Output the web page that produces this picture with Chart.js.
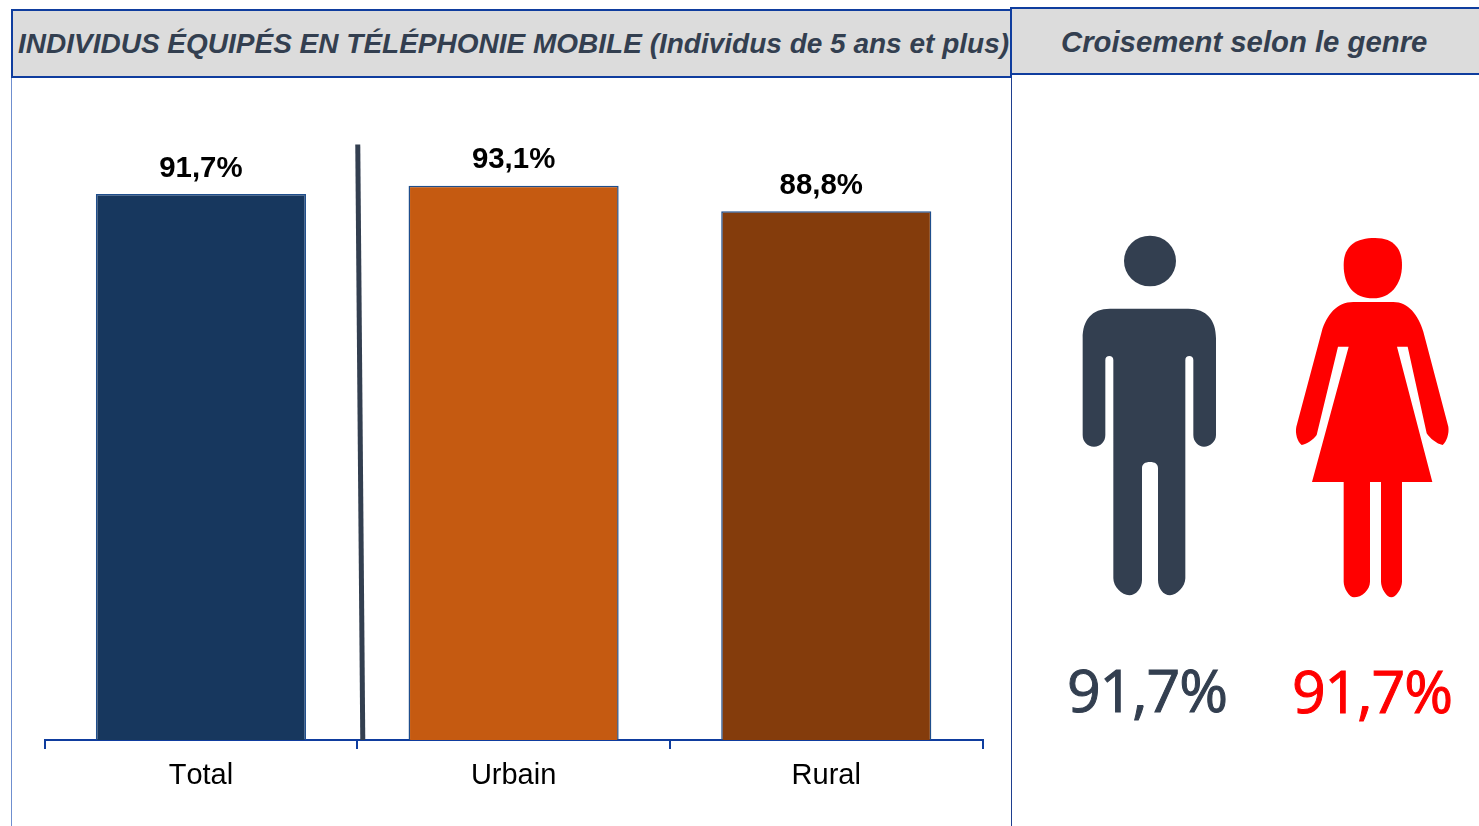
<!DOCTYPE html>
<html lang="fr">
<head>
<meta charset="utf-8">
<title>Individus équipés en téléphonie mobile</title>
<script src="https://cdn.jsdelivr.net/npm/chart.js@4"></script>
<style>
  html, body { margin: 0; padding: 0; background: #fff; }
  #page { position: relative; width: 1479px; height: 826px; overflow: hidden; font-family: "Liberation Sans", Arial, sans-serif; }
  #page > * { position: absolute; box-sizing: border-box; }
  canvas { left: 0; top: 0; }
  .head { background: #dcdcdc; border: 2px solid #0f3d9e; color: #333f50; font-weight: bold; font-style: italic; white-space: nowrap; }
  #headLeft { left: 11px; top: 9px; width: 1001px; height: 69px; line-height: 66px; padding-left: 5px; font-size: 28px; }
  #headRight { left: 1010px; top: 7px; width: 472px; height: 68px; line-height: 66px; padding-left: 49px; font-size: 29.3px; }
  .rule { width: 1px; top: 75px; height: 751px; }
  #ruleLeft { left: 11px; background: #6f8fcf; }
  #ruleRight { left: 1011px; background: #1f3f8f; }
  .pct { width: 220px; text-align: center; font-family: "Open Sans", sans-serif; font-size: 59px; letter-spacing: -1px; line-height: 78px; -webkit-text-stroke: 1px currentColor; }
  #pctMan { left: 1037px; top: 650px; color: #333f50; }
  #pctWoman { left: 1262px; top: 651px; color: #ff0000; }
</style>
</head>
<body>
<div id="page">
  <canvas id="chart" width="1479" height="826"></canvas>
  <div class="rule" id="ruleLeft"></div>
  <div class="rule" id="ruleRight"></div>
  <div class="head" id="headLeft">INDIVIDUS ÉQUIPÉS EN TÉLÉPHONIE MOBILE (Individus de 5 ans et plus)</div>
  <div class="head" id="headRight">Croisement selon le genre</div>

  <svg style="left:1060px;top:220px" width="419" height="400" viewBox="0 0 1257 1200">
    <ellipse cx="270" cy="123" rx="78" ry="76" fill="#333f50"/>
    <path fill="#333f50" d="M150 266 H385 C440 266 468 300 468 355 V645 C468 665 450 680 432 680 C415 680 400 665 400 645 V420 C400 412 395 408 388 408 C381 408 376 412 376 420 V1075 C376 1100 350 1126 330 1126 C310 1126 294 1105 294 1080 V745 C294 732 285 726 270 726 C255 726 246 732 246 745 V1080 C246 1105 228 1126 208 1126 C185 1126 160 1100 160 1075 V420 C160 412 155 408 148 408 C141 408 136 412 136 420 V645 C136 665 122 680 102 680 C82 680 68 665 68 645 V355 C68 300 95 266 150 266 Z"/>
    <path fill="#ff0000" d="M945 54 C1005 54 1026 90 1026 135 C1026 195 990 235 940 235 C880 235 851 195 851 135 C851 75 890 54 945 54 Z"/>
    <path fill="#ff0000" d="M880 246 H1000 C1045 246 1075 285 1090 335 L1165 620 C1168 640 1160 665 1148 675 C1130 672 1110 655 1100 640 L1043 380 H1011 L1117 786 H1026 V1085 C1026 1105 1008 1132 994 1132 C980 1132 963 1105 963 1085 V786 H930 V1085 C930 1110 905 1132 882 1132 C868 1132 851 1105 851 1085 V786 H756 L866 380 H834 L770 645 C760 660 740 672 725 675 C712 665 705 640 709 620 L785 335 C800 285 830 246 880 246 Z"/>
  </svg>
  <div class="pct" id="pctMan"></div>
  <div class="pct" id="pctWoman"></div>
</div>

<script>
const categories = ["Total", "Urbain", "Rural"];
const values = [91.7, 93.1, 88.8];
const valueLabels = ["91,7%", "93,1%", "88,8%"];
const barColors = ["#17375e", "#c55a11", "#843c0c"];
const genderLabels = ["91,7%", "91,7%"];

document.getElementById("pctMan").textContent = genderLabels[0];
document.getElementById("pctWoman").textContent = genderLabels[1];

// value labels above the bars, the rural one sits a bit left in the original
const barLabels = {
  id: "barLabels",
  beforeDraw(chart) {
    chart.ctx.fontKerning = "none";
  },
  afterDatasetsDraw(chart) {
    const ctx = chart.ctx;
    const bars = chart.getDatasetMeta(0).data;
    ctx.save();
    ctx.font = "bold 29.4px 'Liberation Sans', Arial, sans-serif";
    ctx.fillStyle = "#000";
    ctx.textAlign = "center";
    ctx.textBaseline = "middle";
    bars.forEach((bar, i) => {
      const shift = i === 2 ? -5 : 0;
      ctx.fillText(valueLabels[i], bar.x + shift, bar.y - 25.5);
    });
    ctx.restore();
  },
};

// slanted separator between Total and the two others
const separator = {
  id: "separator",
  afterDraw(chart) {
    const ctx = chart.ctx;
    const base = chart.scales.y.getPixelForValue(0);
    const top = chart.scales.y.getPixelForValue(100);
    const left = chart.scales.x.left + chart.scales.x.width / 3;
    ctx.save();
    ctx.strokeStyle = "#333f50";
    ctx.lineWidth = 5;
    ctx.beginPath();
    ctx.moveTo(left + 0.5, top);
    ctx.lineTo(left + 5.5, base);
    ctx.stroke();
    ctx.restore();
  },
};

new Chart(document.getElementById("chart"), {
  type: "bar",
  data: {
    labels: categories,
    datasets: [{
      data: values,
      backgroundColor: barColors,
      borderColor: "#1f4e8c",
      borderWidth: 1.5,
      barPercentage: 1,
      categoryPercentage: 0.672,
    }],
  },
  plugins: [barLabels, separator],
  options: {
    responsive: false,
    animation: false,
    layout: { padding: { left: 44.6, right: 496.4, top: 144.6, bottom: 0 } },
    plugins: { legend: { display: false }, tooltip: { enabled: false } },
    scales: {
      x: {
        afterFit(scale) { scale.height = 86; },
        border: { color: "#0f3d9e", width: 2 },
        grid: { color: "#0f3d9e", lineWidth: 2, drawOnChartArea: false, tickLength: 9 },
        ticks: {
          color: "#000",
          padding: 10,
          font: { family: "'Liberation Sans', Arial, sans-serif", size: 29 },
        },
      },
      y: { display: false, min: 0, max: 100 },
    },
  },
});
</script>
</body>
</html>
